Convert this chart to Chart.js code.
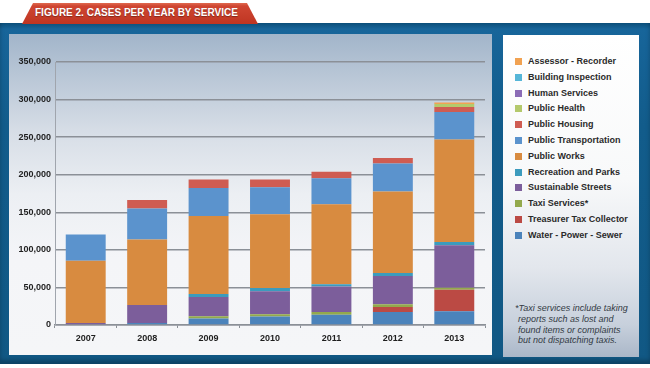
<!DOCTYPE html>
<html>
<head>
<meta charset="utf-8">
<script src="https://cdn.jsdelivr.net/npm/chart.js@4.4.0/dist/chart.umd.min.js"></script>
<style>
  html, body { margin: 0; padding: 0; background: #ffffff; }
  body { width: 650px; height: 368px; position: relative; overflow: hidden; font-family: "Liberation Sans", Arial, sans-serif; }
  .frame {
    position: absolute; left: 0; top: 23px; width: 650px; height: 341px;
    background: linear-gradient(to bottom, #0c4f7a 0px, #17659a 6px, #125c8b 30%, #115884 100%);
    box-shadow: inset 0 -4px 4px rgba(0,0,0,0.25);
  }
  .tab {
    position: absolute; left: 22px; top: 3px; width: 236px; height: 21px;
    clip-path: polygon(11px 0, 225px 0, 236px 100%, 0 100%);
    background: linear-gradient(to bottom, #e06a50 0px, #cf4632 3px, #bf3522 100%);
  }
  .tab span {
    position: absolute; left: 13px; top: 4px; color: #ffffff; font-weight: bold; font-size: 10px;
    text-shadow: 0 1px 1px rgba(0,0,0,0.35); white-space: nowrap;
  }
  .panel {
    position: absolute; left: 9px; top: 34px; width: 483px; height: 321px;
    background: linear-gradient(to bottom, #a2b5ca 0%, #d6dde6 30%, #eceff3 50%, #f4f5f8 70%, #f5f6f8 100%);
  }
  .legend-panel {
    position: absolute; left: 503px; top: 35px; width: 136px; height: 322px;
    background: linear-gradient(to bottom, #ffffff 0%, #f8f9fa 45%, #e3e7ed 72%, #c7d0dc 90%, #aab7c8 100%);
  }
  .legend-row { position: absolute; left: 12px; height: 12px; white-space: nowrap; }
  .legend-row i { position: absolute; left: 0; top: 2px; width: 7px; height: 7px; }
  .legend-row b { position: absolute; left: 13px; top: 0; font-size: 9px; line-height: 11px; color: #2a2a2a; }
  .note {
    position: absolute; left: 12px; top: 268px; width: 124px; font-style: italic; font-size: 9px;
    line-height: 10.8px; color: #333a44; white-space: nowrap;
  }
  .note span { padding-left: 3px; }
  #chartBox { position: absolute; left: 9px; top: 34px; width: 483px; height: 321px; }
</style>
</head>
<body>
<div class="frame"></div>
<div class="tab"><span>FIGURE 2. CASES PER YEAR BY SERVICE</span></div>
<div class="panel"></div>
<div class="legend-panel" id="legend">
  <div class="note">*Taxi services include taking<br><span>reports such as lost and</span><br><span>found items or complaints</span><br><span>but not dispatching taxis.</span></div>
</div>
<div id="chartBox"><canvas id="chart"></canvas></div>
<script>
const years = ["2007", "2008", "2009", "2010", "2011", "2012", "2013"];

// values per service, bottom of the stack first
const waterPowerSewer      = [0, 2500, 8500, 11200, 13800, 17300, 18200];
const treasurerTax         = [0, 0, 0, 0, 0, 6700, 28800];
const taxiServices         = [0, 0, 3000, 3100, 3500, 3500, 2700];
const sustainableStreets   = [2500, 24000, 25700, 30600, 34000, 37700, 56500];
const recreationParks      = [0, 0, 4000, 4400, 3000, 4000, 4300];
const publicWorks          = [83000, 87400, 103800, 98000, 106500, 108300, 136300];
const publicTransportation = [35000, 41300, 37300, 36000, 34600, 37300, 36700];
const publicHousing        = [0, 11000, 11200, 10200, 8500, 7500, 6700];
const publicHealth         = [0, 0, 0, 0, 0, 0, 4000];
const humanServices        = [0, 0, 0, 0, 0, 0, 0];
const buildingInspection   = [0, 0, 0, 0, 0, 0, 0];
const assessorRecorder     = [0, 0, 0, 0, 0, 0, 1800];

const yTicks = [0, 50000, 100000, 150000, 200000, 250000, 300000, 350000];

const series = [
  { label: "Water - Power - Sewer", data: waterPowerSewer, color: "#4b83bb" },
  { label: "Treasurer Tax Collector", data: treasurerTax, color: "#bb4a44" },
  { label: "Taxi Services*", data: taxiServices, color: "#93a94c" },
  { label: "Sustainable Streets", data: sustainableStreets, color: "#7c5e9b" },
  { label: "Recreation and Parks", data: recreationParks, color: "#3c9bbd" },
  { label: "Public Works", data: publicWorks, color: "#d88b40" },
  { label: "Public Transportation", data: publicTransportation, color: "#5b93cd" },
  { label: "Public Housing", data: publicHousing, color: "#cf5c52" },
  { label: "Public Health", data: publicHealth, color: "#b4c96c" },
  { label: "Human Services", data: humanServices, color: "#8b6cb6" },
  { label: "Building Inspection", data: buildingInspection, color: "#56b6d8" },
  { label: "Assessor - Recorder", data: assessorRecorder, color: "#f1a252" }
];

// html legend, top to bottom is the reverse of the stack
const legendEl = document.getElementById("legend");
series.slice().reverse().forEach((s, i) => {
  const row = document.createElement("div");
  row.className = "legend-row";
  row.style.top = (21 + i * 15.8) + "px";
  row.innerHTML = '<i style="background:' + s.color + '"></i><b>' + s.label + '</b>';
  legendEl.appendChild(row);
});

const gridColor = "#8b9097";

new Chart(document.getElementById("chart"), {
  type: "bar",
  data: {
    labels: years,
    datasets: series.map(s => ({
      label: s.label,
      data: s.data,
      backgroundColor: s.color,
      borderWidth: 0,
      barPercentage: 0.65,
      categoryPercentage: 1.0
    }))
  },
  options: {
    responsive: true,
    maintainAspectRatio: false,
    animation: false,
    layout: { padding: { top: 28, right: 7, left: 0, bottom: 0 } },
    plugins: { legend: { display: false }, tooltip: { enabled: false } },
    scales: {
      x: {
        stacked: true,
        afterFit: (scale) => { scale.height = 30; },
        grid: { offset: true, drawOnChartArea: false, drawTicks: true, tickLength: 3, color: gridColor, lineWidth: 1 },
        border: { display: true, color: gridColor, width: 1.5 },
        ticks: { color: "#1e1e1e", font: { family: "Liberation Sans", size: 9, weight: "bold" }, padding: 5 }
      },
      y: {
        stacked: true,
        min: 0,
        max: 350000,
        afterFit: (scale) => { scale.width = 46; },
        afterBuildTicks: (scale) => { scale.ticks = yTicks.map(v => ({ value: v })); },
        grid: { drawTicks: false, color: gridColor, lineWidth: 1.5 },
        border: { display: true, color: "#a0a5ad", width: 1 },
        ticks: {
          color: "#1e1e1e",
          font: { family: "Liberation Sans", size: 9, weight: "bold" },
          padding: 4,
          callback: (v) => v.toLocaleString("en-US")
        }
      }
    }
  }
});
</script>
</body>
</html>
